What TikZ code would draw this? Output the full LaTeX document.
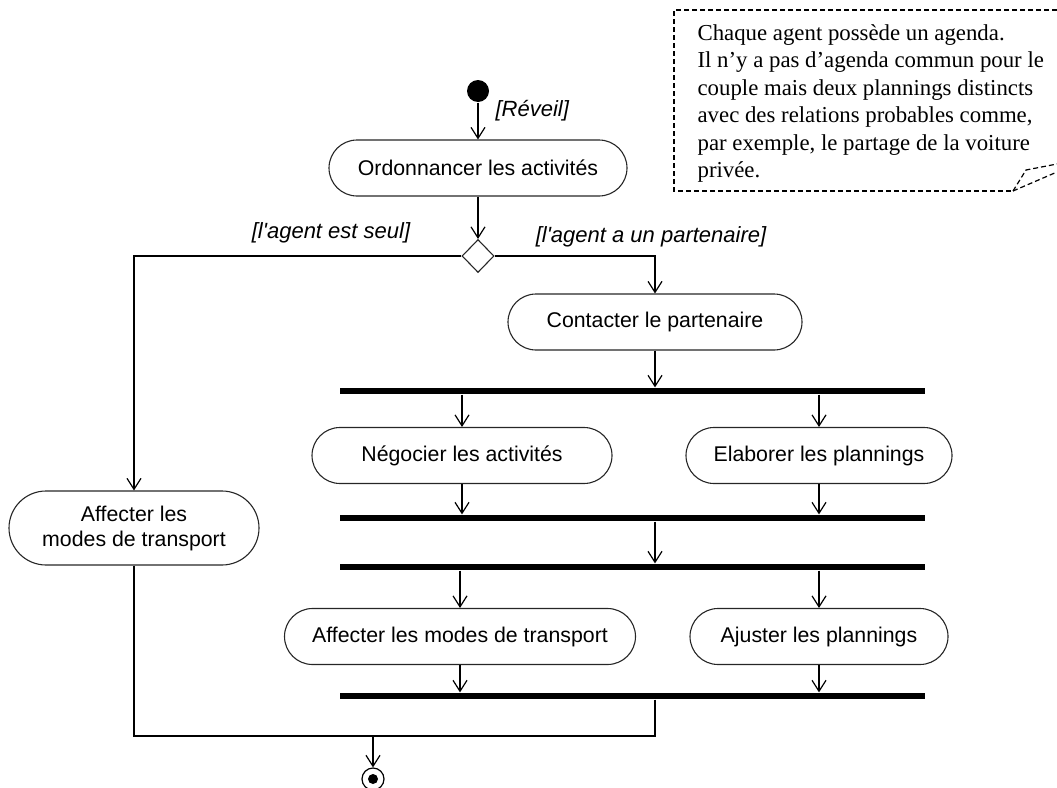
\documentclass[tikz,border=0pt]{standalone}
\usepackage{fontspec}
\setmainfont{Liberation Sans}
\newfontfamily\gfont{Liberation Sans}
\newfontfamily\notefont{Liberation Serif}
\usetikzlibrary{arrows.meta,shapes.geometric}
\begin{document}
\begin{tikzpicture}[x=1pt,y=-1pt,
  line width=1.2pt,
  act/.style={draw=black!85, line width=1.1pt, rounded corners=28pt, minimum height=56pt, inner sep=0pt, font=\fontsize{21.3}{25}\selectfont},
  barnode/.style={fill=black, draw=none, minimum width=585pt, minimum height=6pt, inner sep=0pt},
  arr/.style={-{Straight Barb[length=11pt,width=14pt,line width=1.2pt]}},
  guard/.style={font=\gfont\fontsize{22}{26}\selectfont\itshape, inner sep=0pt},
  notestyle/.style={draw, dashed, dash pattern=on 5pt off 3pt, line width=1.2pt}
]
\useasboundingbox (0,0) rectangle (1057,787);
% note
\draw[notestyle] (1057,10) -- (674,10) -- (674,191) -- (1013,191);
\draw[notestyle] (1013,191) -- (1026,170) -- (1057,164);
\draw[notestyle] (1013,191) -- (1057,172);
\node[anchor=north west, align=left, inner sep=0pt, font=\notefont\fontsize{22.8}{27.4}\selectfont] (note) at (697,24)
{Chaque agent possède un agenda.\\Il n’y a pas d’agenda commun pour le\\couple mais deux plannings distincts\\avec des relations probables comme,\\par exemple, le partage de la voiture\\privée.};
% nodes
\node[circle, fill=black, minimum size=22pt, inner sep=0pt] (start) at (478,91) {};
\node[act, minimum width=298pt] (ord) at (478,168) {Ordonnancer les activités};
\node[diamond, draw=black!85, line width=1.1pt, fill=white, minimum width=32pt, minimum height=33pt, inner sep=0pt] (dia) at (478,256) {};
\node[act, minimum width=250pt, minimum height=74pt, rounded corners=37pt, align=center] (aff1) at (134,528) {Affecter les\\modes de transport};
\node[act, minimum width=294pt] (cont) at (655,322) {Contacter le partenaire};
\node[barnode] (b1) at (632.5,391) {};
\node[act, minimum width=300pt] (neg) at (462,455.5) {Négocier les activités};
\node[act, minimum width=266pt] (elab) at (819,455.5) {Elaborer les plannings};
\node[barnode] (b2) at (632.5,518) {};
\node[barnode] (b3) at (632.5,567) {};
\node[act, minimum width=351pt] (aff2) at (460,636.5) {Affecter les modes de transport};
\node[act, minimum width=258pt] (ajust) at (819,636.5) {Ajuster les plannings};
\node[barnode] (b4) at (632.5,696) {};
\node[circle, draw=black, line width=1.2pt, minimum size=22pt, inner sep=0pt] (fin) at (373,779) {};
\node[circle, fill=black, minimum size=10pt, inner sep=0pt] (findot) at (fin.center) {};
\coordinate (m) at (373,736);
% guards
\node[guard, anchor=west] (g1) at (495,111) {[Réveil]};
\node[guard] (g2) at (331,233) {[l'agent est seul]};
\node[guard] (g3) at (651,237) {[l'agent a un partenaire]};
% edges
\draw[arr] (start) -- (ord);
\draw[arr] (ord) -- (dia);
\draw[arr] (dia.west) -| (aff1);
\draw[arr] (dia.east) -| (cont);
\draw[arr] (cont) -- (cont |- b1.north);
\draw[arr] (neg |- b1.south) -- (neg);
\draw[arr] (elab |- b1.south) -- (elab);
\draw[arr] (neg) -- (neg |- b2.north);
\draw[arr] (elab) -- (elab |- b2.north);
\draw[arr] (cont |- b2.south) -- (cont |- b3.north);
\draw[arr] (aff2 |- b3.south) -- (aff2);
\draw[arr] (ajust |- b3.south) -- (ajust);
\draw[arr] (aff2) -- (aff2 |- b4.north);
\draw[arr] (ajust) -- (ajust |- b4.north);
\draw (aff1) |- (m);
\draw (cont |- b4.south) |- (m);
\draw[arr] (m) -- (fin);
\end{tikzpicture}
\end{document}
